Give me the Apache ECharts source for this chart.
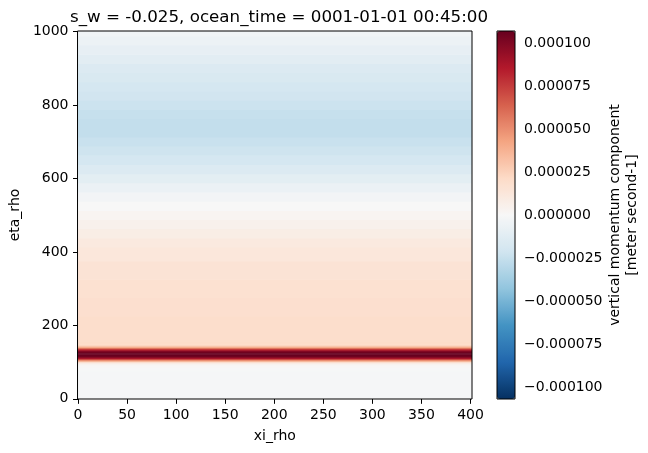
<!DOCTYPE html>
<html>
<head>
<meta charset="utf-8">
<script src="https://cdn.jsdelivr.net/npm/echarts@6/dist/echarts.min.js"></script>
<style>html,body{margin:0;padding:0;background:#fff}#c{width:648px;height:453px}</style>
</head>
<body>
<div id="c"></div>
<script>
// eta_rho positions (row centres) and vertical momentum values (meter second-1)
const etaRows = [0,10,20,30,40,50,60,70,80,90,95,98,101,104,107,110,113,116,119,122,125,128,131,134,137,140,143,146,150,160,175,200,250,300,350,400,425,450,475,500,525,550,575,600,625,650,675,700,725,750,775,800,825,850,875,900,925,950,975,1000,1001];
const wValues = [-1e-6,-1e-6,-1e-6,-1e-6,-1e-6,-1e-6,-1e-6,-1e-6,-0.5e-6,1e-6,4e-6,10e-6,25e-6,45e-6,65e-6,85e-6,98e-6,105e-6,107e-6,107e-6,107e-6,104e-6,95e-6,80e-6,62e-6,43e-6,30e-6,23e-6,20e-6,19e-6,19e-6,19e-6,18e-6,17e-6,15e-6,12.5e-6,10.5e-6,8e-6,5e-6,2.5e-6,0,-3e-6,-7e-6,-11e-6,-15e-6,-19e-6,-22e-6,-24e-6,-26e-6,-26e-6,-25e-6,-23e-6,-21e-6,-19e-6,-17e-6,-15e-6,-12e-6,-9e-6,-6e-6,-4e-6,-4e-6];
const xiRange = [-0.5, 401.5];
const etaRange = [-0.5, 1001.5];
const xTicks = [0,50,100,150,200,250,300,350,400];
const yTicks = [0,200,400,600,800,1000];
const cbarTicks = [-0.0001,-0.000075,-0.00005,-0.000025,0,0.000025,0.00005,0.000075,0.0001];
const vLimit = 0.000107;
const rdbuR = ['#053061','#2166ac','#4393c3','#92c5de','#d1e5f0','#f7f7f7','#fddbc7','#f4a582','#d6604d','#b2182b','#67001f'];

const data = etaRows.map((e, i) => {
  const lo = i === 0 ? etaRange[0] : (etaRows[i - 1] + e) / 2;
  const hi = i === etaRows.length - 1 ? etaRange[1] : (e + etaRows[i + 1]) / 2;
  return [xiRange[0], xiRange[1], lo, hi, wValues[i]];
});

const font = 'DejaVu Sans';
const fs = 14;
const chart = echarts.init(document.getElementById('c'), null, {renderer: 'canvas'});
chart.setOption({
  animation: false,
  backgroundColor: '#fff',
  textStyle: {fontFamily: font},
  title: {
    text: 's_w = -0.025, ocean_time = 0001-01-01 00:45:00',
    left: 274, top: 4, textAlign: 'center',
    textStyle: {fontFamily: font, fontSize: 16.7, fontWeight: 'normal', color: '#000'}
  },
  grid: [
    {left: 76, top: 31, width: 396, height: 368, show: true, borderColor: '#000', borderWidth: 1, backgroundColor: 'transparent', z: 10},
    {left: 497, top: 31, width: 18, height: 368, show: true, borderColor: '#000', borderWidth: 1, backgroundColor: 'transparent', z: 10}
  ],
  xAxis: [
    {type: 'value', gridIndex: 0, min: xiRange[0], max: xiRange[1],
     name: 'xi_rho', nameLocation: 'middle', nameGap: 30,
     nameTextStyle: {fontFamily: font, fontSize: fs, color: '#000'},
     axisLine: {show: false}, splitLine: {show: false},
     axisTick: {show: true, length: 5, lineStyle: {color: '#000'}, customValues: xTicks},
     axisLabel: {fontFamily: font, fontSize: fs, color: '#000', margin: 9, customValues: xTicks, formatter: v => String(v)}},
    {type: 'value', gridIndex: 1, min: 0, max: 1, show: false}
  ],
  yAxis: [
    {type: 'value', gridIndex: 0, min: etaRange[0], max: etaRange[1],
     name: 'eta_rho', nameLocation: 'middle', nameGap: 46, nameRotate: 90,
     nameTextStyle: {fontFamily: font, fontSize: fs, color: '#000'},
     axisLine: {show: false}, splitLine: {show: false},
     axisTick: {show: true, length: 5, lineStyle: {color: '#000'}, customValues: yTicks},
     axisLabel: {fontFamily: font, fontSize: fs, color: '#000', margin: 9, customValues: yTicks, formatter: v => String(v)}},
    {type: 'value', gridIndex: 1, position: 'right', min: -vLimit, max: vLimit,
     name: 'vertical momentum component\n[meter second-1]', nameLocation: 'middle', nameGap: 90, nameRotate: 90,
     nameTextStyle: {fontFamily: font, fontSize: fs, color: '#000', lineHeight: 17},
     axisLine: {show: false}, splitLine: {show: false},
     axisTick: {show: true, length: 5, lineStyle: {color: '#000'}, customValues: cbarTicks},
     axisLabel: {fontFamily: font, fontSize: fs, color: '#000', margin: 9, customValues: cbarTicks,
       formatter: v => (v < 0 ? '\u2212' : '') + Math.abs(v).toFixed(6)}}
  ],
  visualMap: {
    type: 'continuous', show: true, min: -vLimit, max: vLimit, dimension: 4, seriesIndex: 0,
    left: 497, top: 31, itemWidth: 18, itemHeight: 368, padding: 0, calculable: false, hoverLink: false,
    text: null, inRange: {color: rdbuR}
  },
  series: [{
    type: 'custom', xAxisIndex: 0, yAxisIndex: 0, clip: true,
    encode: {x: [0, 1], y: [2, 3]},
    data: data,
    renderItem: (params, api) => {
      const p1 = api.coord([api.value(0), api.value(3)]);
      const p2 = api.coord([api.value(1), api.value(2)]);
      return {type: 'rect', shape: {x: p1[0], y: p1[1] - 0.3, width: p2[0] - p1[0], height: p2[1] - p1[1] + 0.6},
              style: {fill: api.visual('color')}};
    }
  }]
});
</script>
</body>
</html>
